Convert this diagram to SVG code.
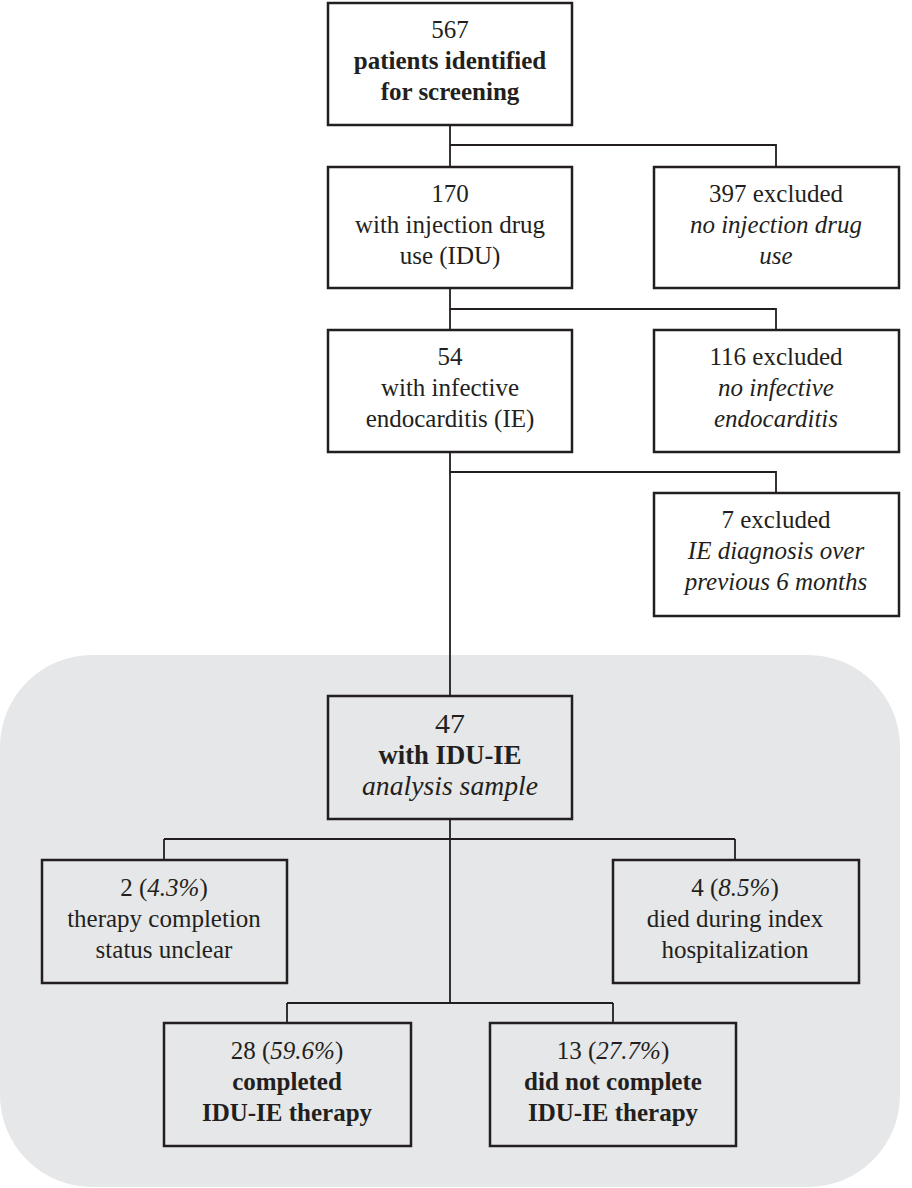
<svg xmlns="http://www.w3.org/2000/svg" width="912" height="1188" viewBox="0 0 912 1188">
<rect x="0" y="655" width="900" height="532" rx="92" ry="92" fill="#e6e7e8"/>
<g id="connectors" fill="none" stroke="#231f20" stroke-width="1.8">
<path d="M450 125V167M450 145H776V167"/>
<path d="M450 288V330M450 309H776V330"/>
<path d="M450 452V696M450 472H776V493"/>
<path d="M450 819V1003M164 839H735M164 839V860M735 839V860"/>
<path d="M287 1003H613M287 1003V1023M613 1003V1023"/>
</g>
<g fill="#231f20" text-anchor="middle">
<g id="n567">
<rect x="328" y="3" width="244" height="122" fill="#fff" stroke="#231f20" stroke-width="2.5"/>
<text x="450" y="38" font-family="Liberation Serif" font-size="25">567</text>
<text x="450" y="69" font-family="Liberation Serif" font-size="25" font-weight="bold">patients identified</text>
<text x="450" y="100" font-family="Liberation Serif" font-size="25" font-weight="bold">for screening</text>
</g>
<g id="n170">
<rect x="328" y="167" width="244" height="121" fill="#fff" stroke="#231f20" stroke-width="2.5"/>
<text x="450" y="202" font-family="Liberation Serif" font-size="25">170</text>
<text x="450" y="233" font-family="Liberation Serif" font-size="25">with injection drug</text>
<text x="450" y="264" font-family="Liberation Serif" font-size="25">use (IDU)</text>
</g>
<g id="n397">
<rect x="654" y="167" width="245" height="121" fill="#fff" stroke="#231f20" stroke-width="2.5"/>
<text x="776" y="202" font-family="Liberation Serif" font-size="25">397 excluded</text>
<text x="776" y="233" font-family="Liberation Serif" font-size="25" font-style="italic">no injection drug</text>
<text x="776" y="264" font-family="Liberation Serif" font-size="25" font-style="italic">use</text>
</g>
<g id="n54">
<rect x="328" y="330" width="244" height="122" fill="#fff" stroke="#231f20" stroke-width="2.5"/>
<text x="450" y="365" font-family="Liberation Serif" font-size="25">54</text>
<text x="450" y="396" font-family="Liberation Serif" font-size="25">with infective</text>
<text x="450" y="427" font-family="Liberation Serif" font-size="25">endocarditis (IE)</text>
</g>
<g id="n116">
<rect x="654" y="330" width="245" height="122" fill="#fff" stroke="#231f20" stroke-width="2.5"/>
<text x="776" y="365" font-family="Liberation Serif" font-size="25">116 excluded</text>
<text x="776" y="396" font-family="Liberation Serif" font-size="25" font-style="italic">no infective</text>
<text x="776" y="427" font-family="Liberation Serif" font-size="25" font-style="italic">endocarditis</text>
</g>
<g id="n7">
<rect x="654" y="493" width="245" height="123" fill="#fff" stroke="#231f20" stroke-width="2.5"/>
<text x="776" y="528" font-family="Liberation Serif" font-size="25">7 excluded</text>
<text x="776" y="559" font-family="Liberation Serif" font-size="25" font-style="italic">IE diagnosis over</text>
<text x="776" y="590" font-family="Liberation Serif" font-size="25" font-style="italic">previous 6 months</text>
</g>
<g id="n47">
<rect x="328" y="696" width="244" height="123" fill="#e6e7e8" stroke="#231f20" stroke-width="2.5"/>
<text x="450" y="733" font-family="Liberation Serif" font-size="28" textLength="30" lengthAdjust="spacingAndGlyphs">47</text>
<text x="450" y="764" font-family="Liberation Serif" font-size="28" font-weight="bold" textLength="143" lengthAdjust="spacingAndGlyphs">with IDU-IE</text>
<text x="450" y="795" font-family="Liberation Serif" font-size="28" font-style="italic" textLength="176" lengthAdjust="spacingAndGlyphs">analysis sample</text>
</g>
<g id="n2">
<rect x="42" y="860" width="245" height="123" fill="#e6e7e8" stroke="#231f20" stroke-width="2.5"/>
<text x="164" y="896" font-family="Liberation Serif" font-size="25">2 (<tspan font-style="italic">4.3%</tspan>)</text>
<text x="164" y="927" font-family="Liberation Serif" font-size="25">therapy completion</text>
<text x="164" y="958" font-family="Liberation Serif" font-size="25">status unclear</text>
</g>
<g id="n4">
<rect x="613" y="860" width="246" height="123" fill="#e6e7e8" stroke="#231f20" stroke-width="2.5"/>
<text x="735" y="896" font-family="Liberation Serif" font-size="25">4 (<tspan font-style="italic">8.5%</tspan>)</text>
<text x="735" y="927" font-family="Liberation Serif" font-size="25">died during index</text>
<text x="735" y="958" font-family="Liberation Serif" font-size="25">hospitalization</text>
</g>
<g id="n28">
<rect x="164" y="1023" width="247" height="123" fill="#e6e7e8" stroke="#231f20" stroke-width="2.5"/>
<text x="287" y="1059" font-family="Liberation Serif" font-size="25">28 (<tspan font-style="italic">59.6%</tspan>)</text>
<text x="287" y="1090" font-family="Liberation Serif" font-size="25" font-weight="bold">completed</text>
<text x="287" y="1121" font-family="Liberation Serif" font-size="25" font-weight="bold">IDU-IE therapy</text>
</g>
<g id="n13">
<rect x="490" y="1023" width="246" height="123" fill="#e6e7e8" stroke="#231f20" stroke-width="2.5"/>
<text x="613" y="1059" font-family="Liberation Serif" font-size="25">13 (<tspan font-style="italic">27.7%</tspan>)</text>
<text x="613" y="1090" font-family="Liberation Serif" font-size="25" font-weight="bold">did not complete</text>
<text x="613" y="1121" font-family="Liberation Serif" font-size="25" font-weight="bold">IDU-IE therapy</text>
</g>
</g>
</svg>
